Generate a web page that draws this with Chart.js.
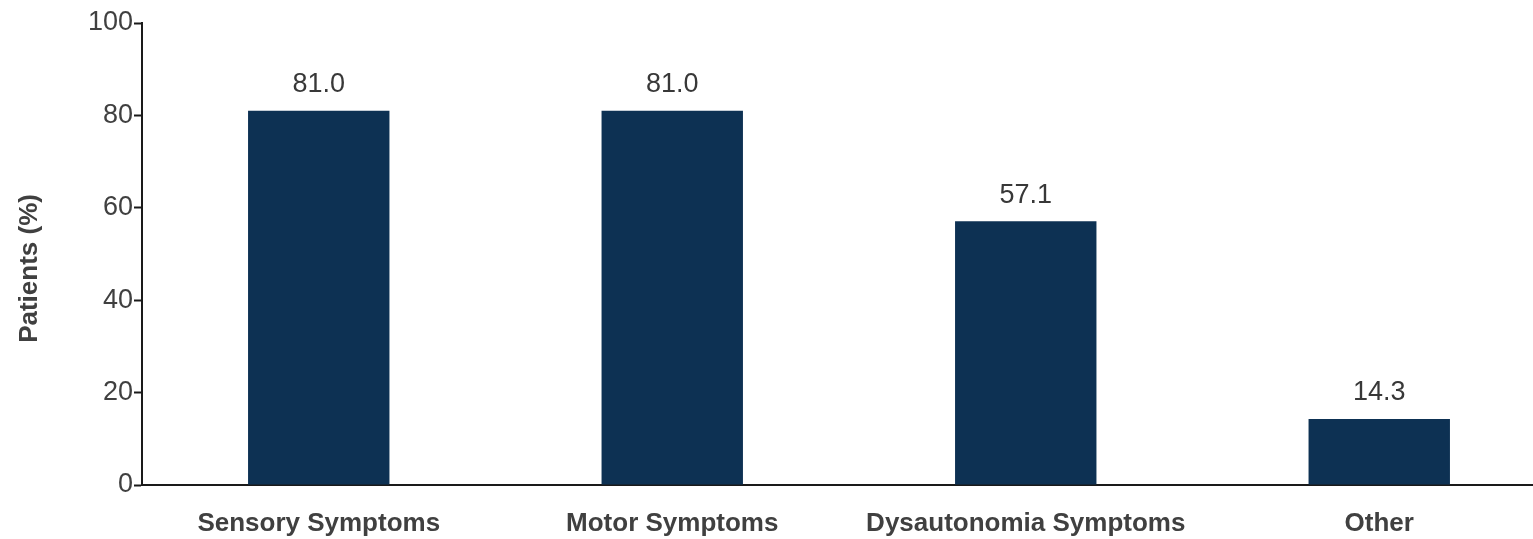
<!DOCTYPE html>
<html>
<head>
<meta charset="utf-8">
<script src="https://cdn.jsdelivr.net/npm/chart.js@4.4.1/dist/chart.umd.min.js"></script>
<style>
  html, body { margin: 0; padding: 0; background: #fff; overflow: hidden; }
  #wrap { position: relative; width: 1560px; height: 539px; }
</style>
</head>
<body>
<div id="wrap"><canvas id="c"></canvas></div>
<script>
const categories = ['Sensory Symptoms', 'Motor Symptoms', 'Dysautonomia Symptoms', 'Other'];
const patientPct = [81.0, 81.0, 57.1, 14.3];
const yTicks = [0, 20, 40, 60, 80, 100];

const FONT = '"Liberation Sans", Arial, Helvetica, sans-serif';

// Value labels above each bar
const valueLabels = {
  id: 'valueLabels',
  afterDatasetsDraw(chart) {
    const ctx = chart.ctx;
    const meta = chart.getDatasetMeta(0);
    ctx.save();
    ctx.font = '27px ' + FONT;
    ctx.fillStyle = '#383838';
    ctx.textAlign = 'center';
    ctx.textBaseline = 'middle';
    meta.data.forEach((bar, i) => {
      ctx.fillText(patientPct[i].toFixed(1), bar.x, bar.y - 26);
    });
    ctx.restore();
  }
};

new Chart(document.getElementById('c'), {
  type: 'bar',
  data: {
    labels: categories,
    datasets: [{
      data: patientPct,
      backgroundColor: '#0d3153',
      barPercentage: 0.4,
      categoryPercentage: 1.0
    }]
  },
  options: {
    responsive: true,
    maintainAspectRatio: false,
    animation: false,
    layout: { padding: { top: 23, right: 4, left: 0, bottom: 0 } },
    plugins: { legend: { display: false }, tooltip: { enabled: false } },
    scales: {
      x: {
        grid: { display: false, drawTicks: false },
        border: { color: '#1a1a1a', width: 2 },
        ticks: {
          color: '#404040',
          font: { family: FONT, size: 26, weight: 'bold' },
          padding: 23,
          maxRotation: 0
        },
        afterFit(scale) { scale.height = 54; }
      },
      y: {
        min: 0,
        max: 100,
        afterBuildTicks(scale) { scale.ticks = yTicks.map(v => ({ value: v })); },
        grid: { drawOnChartArea: false, drawTicks: true, tickLength: 8, color: '#1a1a1a', tickWidth: 2 },
        border: { color: '#1a1a1a', width: 2 },
        ticks: {
          color: '#404040',
          font: { family: FONT, size: 27 },
          padding: 1
        },
        title: {
          display: true,
          // trailing spaces nudge the rotated title slightly downward
          text: 'Patients (%)    ',
          color: '#404040',
          font: { family: FONT, size: 26, weight: 'bold' },
          padding: { top: 14, bottom: 0 }
        },
        afterFit(scale) { scale.width = 142; }
      }
    }
  },
  plugins: [valueLabels]
});
</script>
</body>
</html>
